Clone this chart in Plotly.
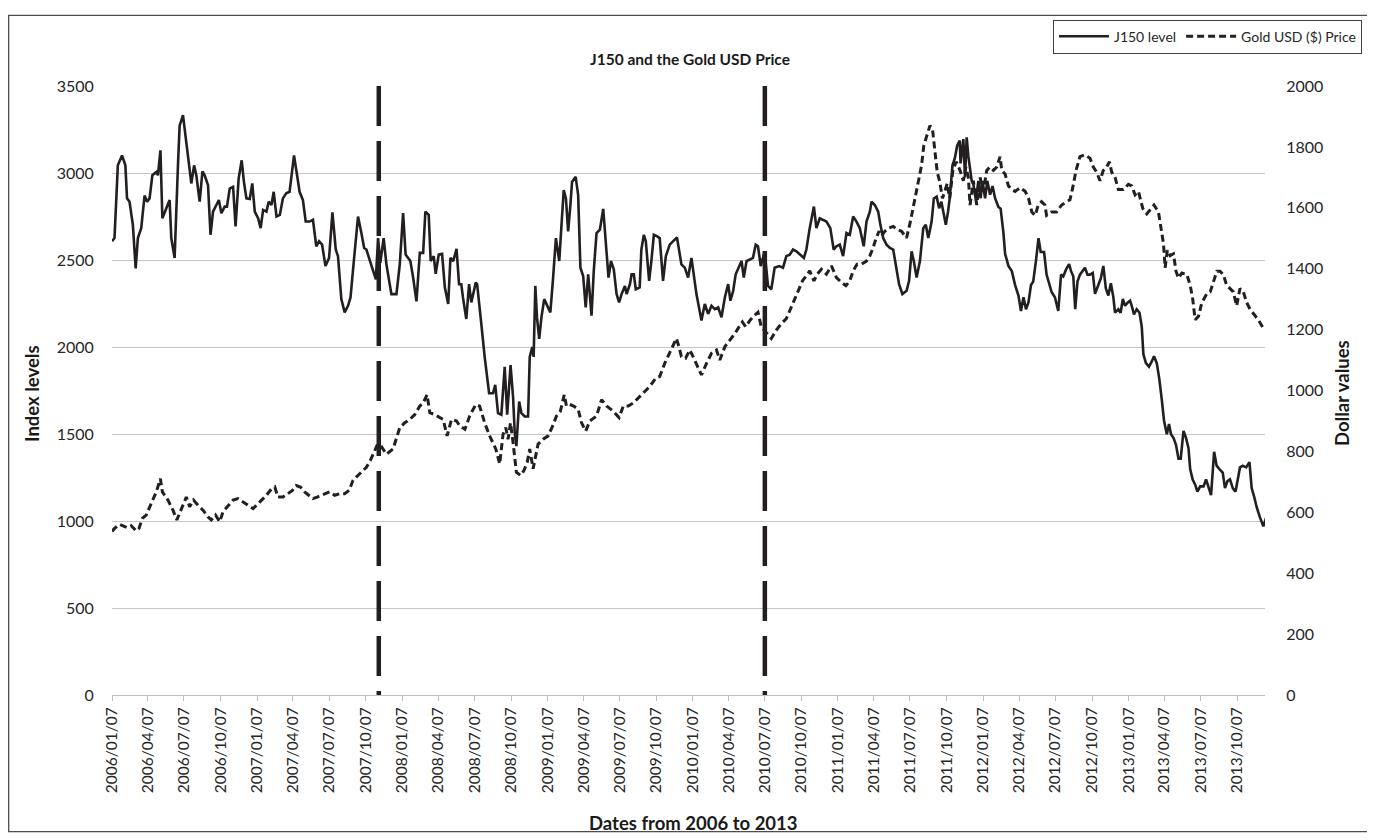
import numpy as np
import pandas as pd
import plotly.graph_objects as go

start = pd.Timestamp("2006-01-07")

# weeks since 2006/01/07 at each turning point
j150_week = [
    0.0, 0.9, 2.1, 3.6, 4.8, 5.4, 6.3, 7.5, 8.5, 9.3,
    10.5, 11.7, 12.6, 13.5, 14.5, 15.9, 16.5, 17.4, 18.1, 19.5,
    20.7, 21.3, 22.5, 23.7, 24.3, 25.5, 26.7, 27.5, 28.5, 29.5,
    30.3, 31.5, 32.5, 33.3, 34.5, 35.4, 36.3, 37.5, 38.4, 39.3,
    40.5, 41.3, 42.3, 43.5, 44.4, 45.5, 46.6, 47.4, 48.3, 49.5,
    50.4, 51.3, 52.5, 53.4, 54.3, 55.5, 56.3, 57.3, 58.1, 59.1,
    60.3, 61.4, 62.6, 63.8, 65.4, 66.5, 67.4, 68.6, 69.6, 71.0,
    72.2, 73.4, 74.4, 75.5, 76.7, 78.0, 79.2, 80.4, 81.2, 82.4,
    83.6, 84.8, 85.7, 87.0, 88.4, 89.6, 90.6, 91.4, 92.6, 93.8,
    94.8, 95.6, 96.4, 97.6, 98.6,
    100.4, 102.2, 103.4, 104.6, 105.5, 107.2, 108.2, 109.4, 110.6, 111.8,
    112.6, 113.8, 114.5, 115.6, 116.3, 117.4, 118.6, 119.6, 120.8, 121.6,
    122.6, 123.8, 124.7, 125.5, 126.1, 127.3, 128.3, 129.1, 130.7, 131.2,
    132.7, 133.9, 135.5, 136.9, 137.7, 138.7, 139.9, 141.1, 142.0, 143.2,
    144.1, 144.7, 145.3, 146.3, 147.1, 148.3, 149.5, 150.1, 151.0, 151.5,
    152.1, 152.7, 153.5, 154.3, 155.3, 156.1, 157.5, 158.5, 159.5, 160.7,
    161.5, 162.3, 163.1, 163.9, 164.7, 165.3, 166.6, 167.5, 168.3, 169.3,
    170.2, 171.1, 172.3, 173.1, 174.1, 175.3, 176.5, 177.4, 178.4, 179.3,
    180.3, 181.3, 182.2, 183.1, 184.3, 184.9, 186.1, 186.7, 187.5, 188.2,
    189.6, 190.2, 191.1, 191.8, 193.0, 193.8, 194.7, 195.9,
    196.8, 198.0, 199.0, 200.4, 201.6, 203.0, 204.6, 205.8, 207.0, 208.2,
    210.0, 211.8, 213.0, 214.2, 215.4, 216.6, 217.8, 219.0, 220.2, 221.4,
    222.2, 223.2, 224.1, 225.3, 226.2, 227.0, 228.0, 229.2, 230.3, 231.3,
    232.1, 233.1, 234.5, 235.7, 236.9, 238.1, 239.7, 241.1, 242.3, 243.5,
    244.7, 245.9, 247.1, 248.6, 249.5, 250.7, 252.2, 253.1, 254.3, 255.5,
    256.7, 258.1, 259.3, 260.3, 261.5, 262.7, 263.9, 265.1, 266.3, 267.5,
    268.7, 270.1, 271.1, 272.3, 272.9, 274.1, 275.3, 276.1, 277.1, 278.3,
    279.5, 280.7, 281.9, 282.8, 284.0, 285.5, 286.4, 287.3, 288.1, 289.1,
    290.3, 291.5, 292.4, 293.3, 294.5, 295.3, 296.3, 297.2, 298.0, 299.6,
    300.4, 301.0, 302.0, 302.8, 303.7, 304.6,
    304.9, 305.9, 306.5, 307.1, 307.7, 308.9, 309.5, 310.4, 311.3, 312.1,
    312.8, 313.7, 314.5, 315.5, 316.4, 317.3, 318.5, 319.3, 320.3, 320.9,
    322.1, 323.3, 324.5, 325.7, 326.6, 327.5, 328.4, 329.3, 330.2, 331.0,
    332.0, 332.9, 333.7, 334.9, 335.8, 336.8, 337.6, 338.8, 340.0, 341.0,
    341.8, 342.8, 343.9, 344.6, 345.4, 346.1, 346.9, 347.8, 348.8, 349.6,
    350.5, 351.4, 352.4, 353.2, 354.4, 355.3, 356.2, 357.1, 358.0, 358.9,
    359.8, 360.4, 361.6, 362.4, 363.2, 364.0, 365.0, 365.8, 366.4, 367.2,
    368.2, 369.2, 370.0, 370.6, 371.5, 372.6, 373.6, 374.4, 375.4, 376.3,
    377.2, 378.0, 379.0, 379.8, 380.5, 381.4, 382.3, 383.2, 384.0, 385.0,
    385.9, 386.8, 387.4, 388.3, 389.2, 390.0, 391.0, 392.2, 393.1, 394.0,
    394.9, 396.0, 396.9, 397.9, 399.1, 399.9, 400.8, 401.7, 402.7, 403.7,
    404.5, 405.3, 406.3, 407.5, 408.7, 409.5, 410.4, 411.3, 412.5, 413.7,
    414.7,
]
j150_level = [
    2608, 2626, 3044, 3101, 3044, 2854, 2835, 2702, 2452, 2626,
    2683, 2870, 2835, 2854, 2987, 3006, 2987, 3130, 2740, 2797,
    2845, 2626, 2512, 3044, 3272, 3333, 3177, 3044, 2940, 3044,
    2987, 2835, 3010, 2987, 2930, 2645, 2778, 2816, 2845, 2769,
    2807, 2807, 2911, 2921, 2693, 2968, 3073, 2949, 2854, 2851,
    2940, 2778, 2740, 2683, 2788, 2778, 2835, 2816, 2892, 2750,
    2759, 2854, 2883, 2892, 3101, 2987, 2892, 2845, 2721, 2721,
    2731, 2579, 2608, 2588, 2465, 2512, 2774, 2560, 2522, 2275,
    2199, 2237, 2285, 2512, 2750, 2655, 2569, 2560, 2503, 2446,
    2389, 2626, 2484, 2626, 2475,
    2304, 2304, 2475, 2769, 2531, 2494, 2399, 2262, 2541, 2541,
    2778, 2759, 2494, 2522, 2421, 2531, 2535, 2342, 2247, 2512,
    2494, 2564, 2361, 2361, 2285, 2161, 2361, 2256, 2370, 2361,
    2133, 1943, 1734, 1734, 1782, 1620, 1611, 1886, 1611, 1896,
    1715, 1506, 1430, 1687, 1620, 1601, 1601, 1943, 2000, 1943,
    2351, 2170, 2047, 2170, 2275, 2247, 2199, 2399, 2626, 2494,
    2702, 2902, 2854, 2664, 2816, 2949, 2978, 2873, 2456, 2408,
    2228, 2418, 2180, 2437, 2655, 2674, 2794, 2588, 2399, 2494,
    2446, 2304, 2256, 2304, 2351, 2304, 2361, 2418, 2418, 2332,
    2342, 2560, 2645, 2608, 2380, 2494, 2645, 2636,
    2626, 2380, 2522, 2588, 2608, 2630, 2475, 2456, 2399, 2512,
    2304, 2152, 2247, 2190, 2237, 2218, 2228, 2171, 2285, 2361,
    2266, 2323, 2418, 2456, 2494, 2399, 2494, 2503, 2512, 2588,
    2579, 2465, 2550, 2351, 2332, 2456, 2465, 2456, 2522, 2531,
    2560, 2550, 2531, 2512, 2560, 2683, 2807, 2683, 2740, 2731,
    2721, 2683, 2560, 2579, 2588, 2522, 2655, 2645, 2750, 2721,
    2683, 2579, 2721, 2778, 2835, 2816, 2778, 2702, 2626, 2588,
    2569, 2560, 2456, 2361, 2304, 2323, 2380, 2550, 2494, 2399,
    2494, 2683, 2702, 2626, 2721, 2854, 2864, 2797, 2835, 2702,
    2778, 2854, 3044, 3082, 3158, 3187,
    3055, 3195, 2975, 3205, 3095, 2955, 2935, 2845, 2955, 2855,
    2955, 2855, 2955, 2875, 2925, 2855, 2805, 2795, 2656, 2536,
    2466, 2436, 2356, 2296, 2207, 2286, 2217, 2256, 2356, 2376,
    2496, 2626, 2546, 2546, 2416, 2356, 2316, 2286, 2207, 2416,
    2406, 2446, 2476, 2436, 2406, 2217, 2376, 2416, 2436, 2456,
    2416, 2416, 2426, 2306, 2356, 2396, 2466, 2336, 2296, 2366,
    2286, 2197, 2217, 2197, 2276, 2237, 2256, 2266, 2237, 2187,
    2217, 2197, 2117, 1957, 1907, 1887, 1917, 1947, 1907, 1817,
    1698, 1578, 1498, 1558, 1498, 1478, 1438, 1358, 1358, 1518,
    1478, 1418, 1298, 1238, 1209, 1169, 1199, 1199, 1239, 1199,
    1149, 1398, 1318, 1298, 1278, 1189, 1229, 1239, 1189, 1169,
    1229, 1308, 1318, 1308, 1338, 1189, 1139, 1079, 1019, 969,
    1019,
]

gold_week = [
    0.0, 0.9, 2.7, 3.9, 5.4, 6.9, 8.7, 9.7, 10.9, 12.3,
    14.1, 15.9, 17.4, 18.1, 20.1, 21.9, 23.3, 24.5, 25.5, 26.7,
    27.9, 29.3, 30.9, 32.7, 34.5, 35.7, 37.2, 38.7, 39.9, 41.7,
    43.5, 45.3, 47.1, 48.9, 50.7, 51.9, 53.7, 55.5, 57.3, 58.5,
    59.6, 61.4, 63.2, 64.8, 66.2, 67.7, 69.2, 70.8, 72.2, 73.7,
    75.2, 77.0, 78.2, 80.0, 81.8, 83.6, 85.2, 86.6, 88.5, 90.0,
    91.4, 92.8, 94.0, 95.2, 96.2, 97.4, 98.6,
    101.0, 103.4, 105.2, 107.0, 108.8, 110.6, 111.8, 113.2, 114.2, 116.0,
    117.8, 119.0, 120.4, 122.0, 123.8, 125.0, 126.8, 128.5, 130.7, 132.1,
    133.9, 135.7, 137.9, 139.3, 140.5, 141.5, 142.3, 143.2, 144.1, 145.3,
    146.8, 148.0, 149.2, 150.1, 151.3, 153.1, 154.9, 156.7, 158.3, 159.7,
    161.1, 162.5, 163.3, 164.5, 165.9, 167.5, 168.7, 170.2, 171.7, 174.1,
    175.9, 177.7, 180.1, 182.2, 183.7, 185.5, 187.3, 189.6, 191.4, 193.2,
    195.4,
    196.8, 198.6, 199.8, 201.6, 202.8, 203.7, 204.6, 206.1, 207.6, 208.8,
    210.0, 211.8, 213.6, 215.4, 217.2, 218.4, 220.2, 222.0, 223.8, 225.3,
    226.5, 227.7, 229.2, 230.9, 232.1, 233.3, 236.9, 238.7, 240.5, 242.3,
    243.5, 244.7, 246.5, 248.1, 249.5, 250.7, 252.2, 253.4, 254.9, 256.7,
    258.5, 260.3, 262.1, 263.7, 265.1, 266.3, 267.7, 269.3, 271.1, 272.3,
    273.5, 274.4, 275.6, 276.5, 277.7, 279.2, 280.7, 282.1, 283.7, 285.5,
    286.9, 288.1, 289.7, 290.9, 291.7, 292.7, 293.9, 294.8, 295.7, 296.5,
    297.4, 298.4, 299.2, 300.1, 301.0, 302.2, 303.4,
    304.7, 305.9, 306.8, 307.7, 308.3, 309.5, 310.7, 311.9, 313.1, 314.3,
    315.5, 316.7, 317.9, 319.1, 319.7, 320.9, 322.1, 323.3, 324.5, 326.3,
    328.1, 329.3, 330.5, 331.7, 332.8, 334.0, 335.2, 335.8, 337.6, 339.4,
    341.2, 343.0, 344.2, 345.2, 346.4, 347.8, 349.6, 351.4, 352.6, 353.8,
    355.0, 356.2, 357.4, 358.4, 359.2, 360.4, 361.6, 363.4, 365.2, 366.4,
    367.6, 368.8, 370.4, 371.8, 373.0, 374.4, 376.0, 376.6, 377.8, 378.4,
    379.2, 380.2, 381.4, 382.3, 383.2, 384.4, 386.2, 387.4, 388.3, 389.2,
    390.4, 391.6, 393.4, 394.6, 395.8, 397.0, 398.1, 399.3, 400.5, 401.7,
    402.9, 404.1, 405.3, 406.5, 407.7, 408.9, 410.7, 411.9, 413.7,
]
gold_usd = [
    537, 547, 560, 556, 550, 556, 539, 547, 580, 591,
    629, 667, 710, 667, 640, 607, 575, 602, 623, 650,
    618, 640, 623, 607, 585, 575, 591, 569, 602, 623,
    640, 645, 634, 623, 612, 623, 640, 656, 677, 683,
    650, 650, 661, 672, 688, 683, 667, 656, 645, 650,
    656, 661, 667, 656, 661, 661, 672, 705, 721, 734,
    748, 770, 797, 819, 824, 808, 791,
    808, 878, 894, 905, 921, 949, 959, 986, 927, 921,
    911, 905, 851, 905, 900, 883, 873, 916, 954, 949,
    894, 851, 808, 759, 856, 878, 840, 894, 829, 732,
    721, 737, 764, 808, 743, 824, 840, 851, 883, 916,
    932, 986, 949, 954, 949, 938, 894, 867, 900, 916,
    970, 949, 932, 911, 949, 949, 959, 981, 997, 1013,
    1041,
    1046, 1089, 1111, 1144, 1171, 1144, 1111, 1106, 1133, 1111,
    1089, 1051, 1089, 1122, 1133, 1100, 1144, 1165, 1187, 1209,
    1225, 1209, 1230, 1247, 1257, 1209, 1171, 1198, 1220, 1236,
    1263, 1290, 1328, 1360, 1377, 1393, 1360, 1382, 1398, 1382,
    1409, 1371, 1355, 1344, 1360, 1393, 1415, 1415, 1425, 1442,
    1469, 1496, 1523, 1507, 1523, 1534, 1539, 1529, 1523, 1501,
    1556, 1610, 1686, 1740, 1805, 1832, 1870, 1859, 1794, 1718,
    1686, 1631, 1653, 1680, 1631, 1729, 1751,
    1723, 1689, 1734, 1700, 1609, 1689, 1609, 1700, 1654, 1723,
    1734, 1723, 1734, 1768, 1723, 1711, 1672, 1660, 1654, 1666,
    1654, 1632, 1586, 1575, 1609, 1620, 1609, 1575, 1586, 1586,
    1609, 1620, 1626, 1666, 1723, 1768, 1774, 1763, 1734, 1717,
    1689, 1723, 1734, 1751, 1717, 1700, 1660, 1660, 1677, 1672,
    1643, 1654, 1597, 1580, 1592, 1609, 1586, 1552, 1483, 1403,
    1461, 1443, 1449, 1392, 1369, 1386, 1381, 1346, 1301, 1232,
    1244, 1289, 1318, 1324, 1358, 1392, 1392, 1381, 1346, 1335,
    1324, 1278, 1335, 1324, 1289, 1267, 1244, 1232, 1204,
]

event_dates = ["2007-11-09", "2010-07-07"]


def to_dates(weeks):
    return start + pd.to_timedelta(np.array(weeks) * 7, unit="D")


ink = "#231f20"
grid = "#c6c6c6"

fig = go.Figure()
fig.add_trace(
    go.Scatter(
        x=to_dates(j150_week),
        y=j150_level,
        name="J150 level",
        mode="lines",
        line=dict(color=ink, width=2.6),
    )
)
fig.add_trace(
    go.Scatter(
        x=to_dates(gold_week),
        y=gold_usd,
        name="Gold USD ($) Price",
        mode="lines",
        yaxis="y2",
        line=dict(color=ink, width=3, dash="7px,4px"),
    )
)

for d in event_dates:
    fig.add_shape(
        type="line",
        xref="x",
        yref="y",
        x0=d,
        x1=d,
        y0=3500,
        y1=0,
        line=dict(color=ink, width=4.5, dash="40px,15px"),
    )

# outer frame of the chart
fig.add_shape(
    type="rect",
    xref="paper",
    yref="paper",
    x0=-0.0896,
    x1=1.0893,
    y0=-0.2244,
    y1=1.1159,
    line=dict(color="#4d4d4d", width=1.3),
)

bold = dict(family="Lato, sans-serif", size=18.5, color="#1a1a1a")
fig.add_annotation(
    text="<b>J150 and the Gold USD Price</b>",
    x=0.5013, y=1.044, xref="paper", yref="paper",
    showarrow=False, xanchor="center", yanchor="middle",
    font=dict(family="Lato, sans-serif", size=15.5, color="#1a1a1a"),
)
fig.add_annotation(
    text="<b>Index levels</b>",
    x=-0.0694, y=0.496, xref="paper", yref="paper", textangle=-90,
    showarrow=False, xanchor="center", yanchor="middle", font=bold,
)
fig.add_annotation(
    text="<b>Dollar values</b>",
    x=1.0668, y=0.496, xref="paper", yref="paper", textangle=-90,
    showarrow=False, xanchor="center", yanchor="middle", font=bold,
)
fig.add_annotation(
    text="<b>Dates from 2006 to 2013</b>",
    x=0.504, y=-0.211, xref="paper", yref="paper",
    showarrow=False, xanchor="center", yanchor="middle", font=bold,
)

# the page adds an 8px body margin, so the figure is 8px smaller
fig.update_layout(
    width=1367,
    height=832,
    margin=dict(l=104, r=110, t=72, b=145),
    paper_bgcolor="white",
    plot_bgcolor="white",
    font=dict(family="Lato, sans-serif", size=16, color="#262626"),
    showlegend=True,
    legend=dict(
        orientation="h",
        x=1.0841,
        xanchor="right",
        y=1.109,
        yanchor="top",
        bordercolor="#404040",
        borderwidth=1,
        bgcolor="white",
        font=dict(size=14),
        itemwidth=50,
    ),
    xaxis=dict(
        type="date",
        range=["2006-01-07", "2013-12-16"],
        tickmode="linear",
        tick0="2006-01-07",
        dtick="M3",
        tickformat="%Y/%m/%d",
        tickangle=-90,
        ticks="outside",
        ticklen=5,
        tickcolor="#bfbfbf",
        showline=True,
        linecolor="#bfbfbf",
        showgrid=False,
        zeroline=False,
        tickfont=dict(size=15.5),
    ),
    yaxis=dict(
        range=[0, 3500],
        tickmode="linear",
        tick0=0,
        dtick=500,
        showgrid=True,
        gridcolor=grid,
        zeroline=False,
        ticks="outside",
        ticklen=14,
        tickcolor="rgba(0,0,0,0)",
    ),
    yaxis2=dict(
        range=[0, 2000],
        tickmode="linear",
        tick0=0,
        dtick=200,
        overlaying="y",
        side="right",
        showgrid=False,
        zeroline=False,
        ticks="outside",
        ticklen=17,
        tickcolor="rgba(0,0,0,0)",
    ),
)

fig.write_html("out.html")
